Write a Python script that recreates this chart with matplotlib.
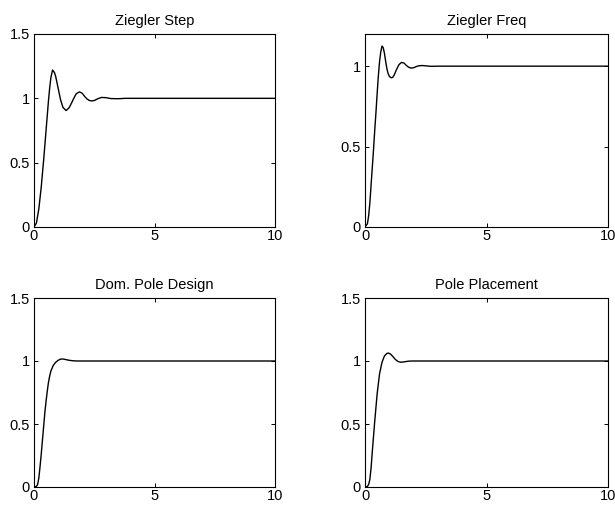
import matplotlib
matplotlib.use("Agg")
import matplotlib.pyplot as plt
from matplotlib.ticker import FuncFormatter

# ---------------------------------------------------------------------------
# DATA — step responses
# ---------------------------------------------------------------------------
zstep_t = [0, 0.1, 0.2, 0.3, 0.4, 0.5, 0.6, 0.65, 0.7, 0.77, 0.85, 0.9, 1.0,
           1.1, 1.2, 1.33, 1.45, 1.55, 1.65, 1.75, 1.88, 2.0, 2.1, 2.2, 2.3,
           2.4, 2.5, 2.65, 2.8, 3.0, 3.2, 3.5, 3.8, 10]
zstep_y = [0, 0.03, 0.14, 0.31, 0.52, 0.75, 0.98, 1.08, 1.16, 1.22, 1.2, 1.17,
           1.08, 0.99, 0.93, 0.905, 0.925, 0.96, 1.0, 1.035, 1.05, 1.04, 1.015,
           0.995, 0.983, 0.98, 0.983, 0.997, 1.007, 1.005, 0.998, 0.997, 1.0,
           1.0]

zfreq_t = [0, 0.1, 0.15, 0.2, 0.25, 0.3, 0.35, 0.4, 0.45, 0.5, 0.55, 0.6,
           0.65, 0.7, 0.75, 0.8, 0.85, 0.9, 0.95, 1.0, 1.05, 1.1, 1.15, 1.2,
           1.3, 1.4, 1.5, 1.6, 1.7, 1.8, 1.9, 2.0, 2.1, 2.2, 2.35, 2.5, 2.7,
           3.0, 10]
zfreq_y = [0, 0.02, 0.07, 0.15, 0.26, 0.37, 0.48, 0.6, 0.71, 0.83, 0.94,
           1.03, 1.09, 1.125, 1.115, 1.08, 1.03, 0.985, 0.955, 0.937, 0.93,
           0.928, 0.932, 0.945, 0.98, 1.01, 1.023, 1.02, 1.005, 0.993, 0.988,
           0.99, 0.997, 1.002, 1.004, 1.002, 0.999, 1.0, 1.0]

dom_t = [0, 0.1, 0.15, 0.2, 0.25, 0.3, 0.35, 0.4, 0.45, 0.5, 0.55, 0.6, 0.65,
         0.7, 0.8, 0.9, 1.0, 1.1, 1.2, 1.3, 1.45, 1.6, 1.8, 10]
dom_y = [0, 0.005, 0.02, 0.07, 0.16, 0.26, 0.37, 0.48, 0.59, 0.68, 0.76,
         0.83, 0.88, 0.92, 0.965, 0.99, 1.005, 1.015, 1.016, 1.012, 1.006,
         1.002, 1.0, 1.0]

pp_t = [0, 0.1, 0.15, 0.2, 0.25, 0.3, 0.35, 0.4, 0.5, 0.6, 0.7, 0.8, 0.9,
        0.96, 1.05, 1.15, 1.25, 1.35, 1.47, 1.6, 1.8, 2.0, 10]
pp_y = [0, 0.005, 0.02, 0.06, 0.15, 0.28, 0.40, 0.52, 0.74, 0.9, 0.99, 1.04,
        1.06, 1.063, 1.055, 1.035, 1.012, 0.997, 0.99, 0.993, 0.999, 1.0, 1.0]

titles = ["Ziegler Step", "Ziegler Freq", "Dom. Pole Design", "Pole Placement"]
ylims = [1.5, 1.2, 1.5, 1.5]
yticks = [[0, 0.5, 1, 1.5], [0, 0.5, 1], [0, 0.5, 1, 1.5], [0, 0.5, 1, 1.5]]
xticks = [0, 5, 10]

series = [(zstep_t, zstep_y), (zfreq_t, zfreq_y), (dom_t, dom_y), (pp_t, pp_y)]

# ---------------------------------------------------------------------------
# PLOT
# ---------------------------------------------------------------------------
plt.rcParams["font.family"] = ["Liberation Sans", "DejaVu Sans"]

fig = plt.figure(figsize=(6.15, 5.13), dpi=100)

# axes rectangles in figure fractions (left, bottom, width, height)
rects = [
    (34 / 615, 1 - 227 / 513, 241 / 615, 193 / 513),
    (365 / 615, 1 - 227 / 513, 243 / 615, 193 / 513),
    (34 / 615, 1 - 487 / 513, 241 / 615, 189 / 513),
    (365 / 615, 1 - 487 / 513, 243 / 615, 189 / 513),
]

fmt = FuncFormatter(lambda v, _: f"{v:g}")

for rect, (t, y), title, ytop, yt in zip(rects, series, titles, ylims, yticks):
    ax = fig.add_axes(rect)
    ax.plot(t, y, color="black", linewidth=1.0)
    ax.set_xlim(0, 10)
    ax.set_ylim(0, ytop)
    ax.set_xticks(xticks)
    ax.set_yticks(yt)
    ax.xaxis.set_major_formatter(fmt)
    ax.yaxis.set_major_formatter(fmt)
    ax.tick_params(direction="in", length=3, width=0.7, top=True, right=True,
                   labelsize=10.5)
    ax.tick_params(axis="x", pad=1.5)
    ax.tick_params(axis="y", pad=3)
    for sp in ax.spines.values():
        sp.set_linewidth(0.8)
    ax.set_title(title, fontsize=10.5, pad=6.5)

fig.savefig("out.png", dpi=100)
